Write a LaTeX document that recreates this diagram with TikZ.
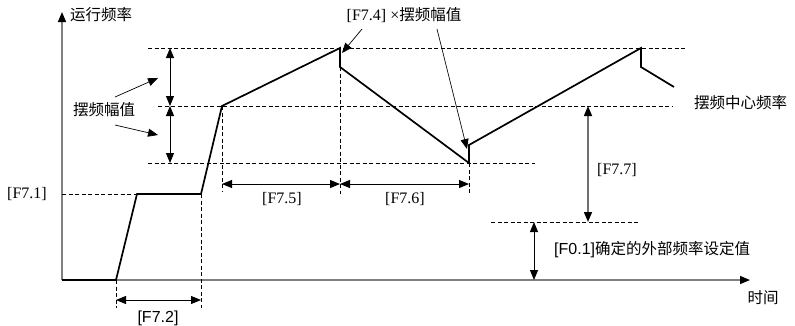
\documentclass[tikz,border=0pt]{standalone}
\usepackage{fontspec}
\setmainfont{Liberation Serif}
\setsansfont{Liberation Sans}
\newfontfamily\cjk{Noto Sans CJK SC}
\usepackage{tikz}
\usetikzlibrary{arrows.meta,positioning,calc}
\definecolor{AxisGray}{HTML}{808080}
\definecolor{DimGray}{HTML}{707070}

\begin{document}
\begin{tikzpicture}[
  x=1pt,y=-1pt,
  every node/.style={font=\fontsize{16}{19}\selectfont,inner sep=0pt,align=center},
  axis/.style={draw=AxisGray,line width=1.3pt,-{Triangle[length=10pt,width=8pt,color=black]}},
  curve/.style={draw=black,line width=1.7pt,line join=miter},
  guide/.style={draw=black,dashed,dash pattern=on 4pt off 2.5pt,line width=0.6pt},
  dim/.style={draw=black,line width=1pt,{Triangle[length=10pt,width=8pt]}-{Triangle[length=10pt,width=8pt]}},
  dimgray/.style={draw=DimGray,line width=1.5pt,{Triangle[length=10pt,width=8pt,color=black]}-{Triangle[length=10pt,width=8pt,color=black]}},
  pointer/.style={draw=black,line width=0.7pt,-{Triangle[length=10pt,width=8pt]}}
]
\useasboundingbox (0,0) rectangle (795,325);

% axes
\coordinate (origin) at (62,280);
\coordinate (ytop) at (62,12);
\coordinate (xend) at (750,280);
\draw[axis] (origin) -- (ytop);
\draw[axis] (origin) -- (xend);
\node[anchor=west] (ylabel) at (70,15) {\cjk\fontsize{15.5}{18}\selectfont 运行频率};
\node (xlabel) at (763,298) {\cjk\fontsize{15.5}{18}\selectfont 时间};

% curve points
\coordinate (p0) at (62,280);
\coordinate (p1) at (116,280);
\coordinate (p2) at (137,194);
\coordinate (p3) at (201,194);
\coordinate (p4) at (222,106);
\coordinate (p5) at (340,48);
\coordinate (p6) at (340,67);
\coordinate (p7) at (469,163);
\coordinate (p8) at (469,145);
\coordinate (p9) at (641,48);
\coordinate (p10) at (641,67);
\coordinate (p11) at (674,87);

% guide lines
\draw[guide] (148,48) -- (685,48);
\draw[guide] (158,106) -- (673,106);
\draw[guide] (148,163) -- (535,163);
\draw[guide] (62,194) -- (p2);
\draw[guide] (491,222) -- (639,222);
\draw[guide] (p1) -- (116,308);
\draw[guide] (p3) -- (201,308);
\draw[guide] (p4) -- (222,192);
\draw[guide] (p6) -- (340,194);
\draw[guide] (p7) -- (469,194);

% running frequency
\draw[curve] (p0) -- (p1) -- (p2) -- (p3) -- (p4) -- (p5) -- (p6) -- (p7) -- (p8) -- (p9) -- (p10) -- (p11);
\draw[curve,line width=2.6pt] (p5) -- (p6);
\draw[curve,line width=2.6pt] (p7) -- (p8);

% swing amplitude
\draw[dim] (170,48) -- (170,106);
\draw[dim] (170,106) -- (170,163);
\node (amp) at (104,110) {\cjk\fontsize{15.5}{18}\selectfont 摆频幅值};
\coordinate (amp1) at (115,97);
\coordinate (amp2) at (115,125);
\draw[pointer] (amp1) -- (158,78);
\draw[pointer] (amp2) -- (158,135);

% jump
\node (f74) at (404,15) {[F7.4] ×\cjk\fontsize{15.5}{18}\selectfont 摆频幅值};
\coordinate (f74a) at (362,29);
\coordinate (f74b) at (437,29);
\draw[pointer] (f74a) -- (342,53);
\draw[pointer] (f74b) -- (467,149);

% times
\draw[dim] (116,300) -- (201,300);
\node (f72) at (158,318) {\sffamily [F7.2]};
\draw[dim] (222,184) -- (340,184);
\draw[dim] (340,184) -- (469,184);
\node (f75) at (282,199) {[F7.5]};
\node (f76) at (405,199) {[F7.6]};

% levels
\node (f71) at (27,194) {[F7.1]};
\node[anchor=west] (centre) at (694,103) {\cjk\fontsize{15.5}{18}\selectfont 摆频中心频率};
\draw[dimgray] (588,106) -- (588,222);
\node (f77) at (617,170) {[F7.7]};
\draw[dim] (534,222) -- (534,280);
\node[anchor=west] (f01) at (554,250) {\sffamily [F0.1]\cjk\fontsize{15.5}{18}\selectfont 确定的外部频率设定值};
\end{tikzpicture}
\end{document}
